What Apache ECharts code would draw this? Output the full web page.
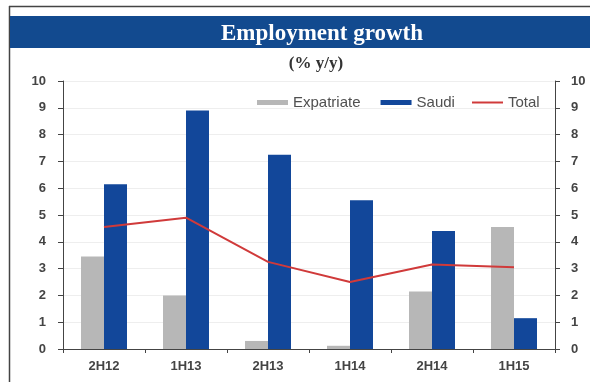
<!DOCTYPE html>
<html><head><meta charset="utf-8">
<script src="https://cdn.jsdelivr.net/npm/echarts@6/dist/echarts.min.js"></script>
<style>html,body{margin:0;padding:0;background:#fff}#c{width:590px;height:382px}</style>
</head><body><div id="c"></div>
<script>
const categories = ['2H12','1H13','2H13','1H14','2H14','1H15'];
const expatriate = [3.45, 2.0, 0.3, 0.12, 2.15, 4.55];
const saudi = [6.15, 8.9, 7.25, 5.55, 4.4, 1.15];
const total = [4.55, 4.9, 3.25, 2.5, 3.15, 3.05];
const yTicks = {min: 0, max: 10, interval: 1};

const chart = echarts.init(document.getElementById('c'));
const axisLabel = {color:'#444', fontFamily:'Liberation Sans', fontWeight:'bold', fontSize:13};
const legendText = {color:'#505050', fontFamily:'Liberation Sans', fontSize:15};
chart.setOption({
  animation:false,
  graphic:[
    {type:'line', shape:{x1:9,y1:6.5,x2:590,y2:6.5}, style:{stroke:'#444',lineWidth:1.5}},
    {type:'line', shape:{x1:9.5,y1:6,x2:9.5,y2:382}, style:{stroke:'#444',lineWidth:1.5}},
    {type:'rect', shape:{x:10,y:16,width:580,height:32}, style:{fill:'#124a8f'}}
  ],
  title:[
    {text:'Employment growth', left:317, textAlign:'center', top:18,
     textStyle:{color:'#fff', fontFamily:'Liberation Serif', fontWeight:'bold', fontSize:23}},
    {text:'(% y/y)', left:311, textAlign:'center', top:50,
     textStyle:{color:'#333', fontFamily:'Liberation Serif', fontWeight:'bold', fontSize:17}}
  ],
  legend:[
    {top:90, left:252, itemWidth:31, itemHeight:5, itemGap:20,
     textStyle:legendText,
     data:[{name:'Expatriate', icon:'rect'},{name:'Saudi', icon:'rect'}]},
    {top:90, left:467, itemWidth:31, itemHeight:2,
     textStyle:legendText,
     data:[{name:'Total', icon:'rect'}]}
  ],
  grid:{left:63, right:35, top:81, bottom:33},
  xAxis:{type:'category', data:categories,
    axisLine:{lineStyle:{color:'#444'}},
    axisTick:{show:true, length:4, lineStyle:{color:'#444'}},
    axisLabel:Object.assign({margin:11}, axisLabel)},
  yAxis:[
    {type:'value', min:yTicks.min, max:yTicks.max, interval:yTicks.interval,
     axisLine:{show:true, lineStyle:{color:'#444'}},
     axisTick:{show:true, length:5, lineStyle:{color:'#444'}},
     splitLine:{lineStyle:{color:'#eeeeee'}},
     axisLabel:Object.assign({margin:17}, axisLabel)},
    {type:'value', min:yTicks.min, max:yTicks.max, interval:yTicks.interval, position:'right',
     axisLine:{show:true, lineStyle:{color:'#444'}},
     axisTick:{show:true, length:5, lineStyle:{color:'#444'}},
     splitLine:{show:false},
     axisLabel:Object.assign({margin:16}, axisLabel)}
  ],
  series:[
    {name:'Expatriate', type:'bar', data:expatriate, barWidth:23, barGap:'0%', itemStyle:{color:'#b7b7b7'}},
    {name:'Saudi', type:'bar', data:saudi, barWidth:23, barGap:'0%', itemStyle:{color:'#12479a'}},
    {name:'Total', type:'line', data:total, symbol:'none', lineStyle:{color:'#d03a3a', width:2}, itemStyle:{color:'#d03a3a'}, z:5}
  ]
});
</script></body></html>
